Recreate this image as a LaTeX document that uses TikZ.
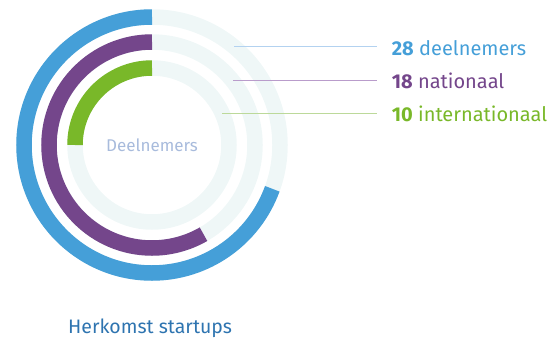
\documentclass[tikz,border=0pt]{standalone}
\usepackage{fontspec}
\setmainfont{Fira Sans}
\usetikzlibrary{calc}
\definecolor{cblue}{HTML}{459FD8}
\definecolor{cpurple}{HTML}{74468B}
\definecolor{cgreen}{HTML}{79B829}
\definecolor{cbg}{HTML}{EFF7F7}
\definecolor{ccenter}{HTML}{A8BBDC}
\definecolor{ctitle}{HTML}{2E74B0}
\definecolor{lblue}{HTML}{B3D2F0}
\definecolor{lpurple}{HTML}{B99CCB}
\definecolor{lgreen}{HTML}{BCD99A}
\tikzset{
  ring/.style={line width=15.5pt, line cap=butt},
  legend/.style={anchor=base west, inner sep=0pt, font=\fontsize{20}{22}\selectfont},
  leader/.style={line width=0.6pt},
}
\begin{document}
\begin{tikzpicture}[x=1pt,y=1pt]
\useasboundingbox (0,0) rectangle (551,-340);
\coordinate (c) at (152,-145);
% background rings
\draw[ring, cbg] (c) circle[radius=128];
\draw[ring, cbg] (c) circle[radius=103];
\draw[ring, cbg] (c) circle[radius=77];
% value arcs
\draw[ring, cblue] ($(c)+(90:128)$) arc[start angle=90, end angle=340, radius=128];
\draw[ring, cpurple] ($(c)+(90:103)$) arc[start angle=90, end angle=300, radius=103];
\draw[ring, cgreen] ($(c)+(90:77)$) arc[start angle=90, end angle=180, radius=77];
% centre label
\node[text=ccenter, font=\fontsize{17}{20}\selectfont\fontseries{l}\selectfont] (center) at (c) {Deelnemers};
% legend
\node[legend, text=cblue] (t1) at (391.7,-55) {\textbf{28} deelnemers};
\node[legend, text=cpurple] (t2) at (391.7,-88) {\textbf{18} nationaal};
\node[legend, text=cgreen] (t3) at (391.7,-121) {\textbf{10} internationaal};
\coordinate (a1) at (234,-46);
\coordinate (a2) at (233,-80);
\coordinate (a3) at (222,-113);
\draw[leader, lblue] (a1) -- ($(a1 -| t1.west)+(-15,0)$);
\draw[leader, lpurple] (a2) -- ($(a2 -| t2.west)+(-15,0)$);
\draw[leader, lgreen] (a3) -- ($(a3 -| t3.west)+(-15,0)$);
% title
\node[anchor=base west, inner sep=0pt, text=ctitle, font=\fontsize{19.5}{22}\selectfont] (title) at (68,-333.3) {Herkomst startups};
\end{tikzpicture}
\end{document}
